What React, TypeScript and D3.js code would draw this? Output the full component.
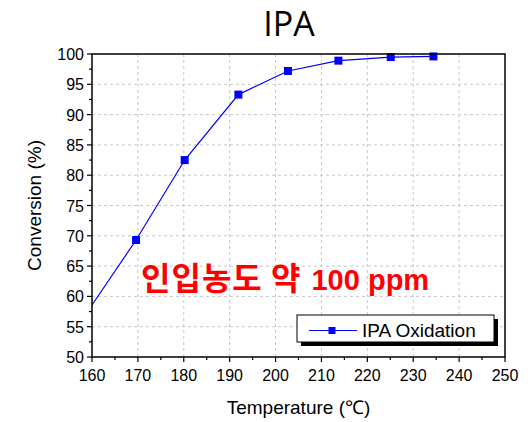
import * as d3 from "d3";

const WIDTH = 530;
const HEIGHT = 422;
const M = { left: 92, right: 25, top: 54, bottom: 65 };

// data (first point lies left of the axis and is clipped)
const temps = [155, 169.6, 180.2, 191.9, 202.7, 213.7, 225.1, 234.4];
const conversion = [53.0, 69.3, 82.5, 93.3, 97.2, 98.9, 99.5, 99.6];
const xTicks = [160, 170, 180, 190, 200, 210, 220, 230, 240, 250];
const yTicks = [50, 55, 60, 65, 70, 75, 80, 85, 90, 95, 100];
const xMinor = d3.range(165, 250, 10);
const yMinor = d3.range(52.5, 100, 5);

const SANS = "'Liberation Sans', Arial, sans-serif";

export default function App() {
  const x = d3.scaleLinear().domain([160, 250]).range([M.left, WIDTH - M.right]);
  const y = d3.scaleLinear().domain([50, 100]).range([HEIGHT - M.bottom, M.top]);
  const pts = temps.map((t, i) => [t, conversion[i]] as [number, number]);
  const line = d3
    .line<[number, number]>()
    .x((d) => x(d[0]))
    .y((d) => y(d[1]));
  const x0 = x(160);
  const x1 = x(250);
  const y0 = y(50);
  const y1 = y(100);

  return (
    <svg width={WIDTH} height={HEIGHT} style={{ position: "absolute", left: 0, top: 0 }}>
      <defs>
        <clipPath id="plot">
          <rect x={x0} y={y1} width={x1 - x0} height={y0 - y1} />
        </clipPath>
      </defs>
      <rect width={WIDTH} height={HEIGHT} fill="#fff" />
      <text x={289} y={36} textAnchor="middle" fontFamily="'Open Sans', 'Noto Sans', sans-serif" fontSize={34} fill="#000">
        IPA
      </text>

      <g stroke="#c8c8c8" strokeDasharray="3,3" strokeWidth={1}>
        {xTicks.slice(1, -1).map((t) => (
          <line key={t} x1={x(t)} x2={x(t)} y1={y1} y2={y0} />
        ))}
        {yTicks.slice(1, -1).map((t) => (
          <line key={t} x1={x0} x2={x1} y1={y(t)} y2={y(t)} />
        ))}
      </g>

      <text x={141} y={290} fill="#ff0000" fontWeight="bold">
        <tspan fontFamily="'Noto Sans CJK KR', sans-serif" fontSize={32} letterSpacing={1}>
          인입농도 약
        </tspan>
        <tspan fontFamily={SANS} fontSize={29} dx={10}>
          100 ppm
        </tspan>
      </text>

      <g clipPath="url(#plot)">
        <path d={line(pts) || ""} fill="none" stroke="#0000ff" strokeWidth={1.2} />
      </g>
      <g fill="#0000ff">
        {pts
          .filter((d) => d[0] >= 160)
          .map((d) => (
            <rect key={d[0]} x={x(d[0]) - 4} y={y(d[1]) - 4} width={8} height={8} />
          ))}
      </g>

      <rect x={x0} y={y1} width={x1 - x0} height={y0 - y1} fill="none" stroke="#000" strokeWidth={1.5} />

      <g stroke="#000" strokeWidth={1.2}>
        {xTicks.map((t) => (
          <line key={t} x1={x(t)} x2={x(t)} y1={y0} y2={y0 + 5} />
        ))}
        {xMinor.map((t) => (
          <line key={t} x1={x(t)} x2={x(t)} y1={y0} y2={y0 + 3} />
        ))}
        {yTicks.map((t) => (
          <line key={t} x1={x0} x2={x0 - 5} y1={y(t)} y2={y(t)} />
        ))}
        {yMinor.map((t) => (
          <line key={t} x1={x0} x2={x0 - 3} y1={y(t)} y2={y(t)} />
        ))}
      </g>

      <g fontFamily={SANS} fontSize={16} fill="#000">
        {xTicks.map((t) => (
          <text key={t} x={x(t)} y={y0 + 24} textAnchor="middle">
            {t}
          </text>
        ))}
        {yTicks.map((t) => (
          <text key={t} x={x0 - 8} y={y(t) + 6} textAnchor="end">
            {t}
          </text>
        ))}
      </g>

      <text x={(x0 + x1) / 2} y={414} textAnchor="middle" fontFamily={SANS} fontSize={19} fill="#000">
        Temperature (℃)
      </text>
      <text
        transform={`translate(41, ${(y0 + y1) / 2}) rotate(-90)`}
        textAnchor="middle"
        fontFamily={SANS}
        fontSize={19}
        fill="#000"
      >
        Conversion (%)
      </text>

      <g>
        <rect x={301} y={319} width={197} height={27} fill="#000" />
        <rect x={297} y={315} width={197} height={27} fill="#fff" stroke="#000" strokeWidth={1} />
        <line x1={309} x2={357} y1={330.5} y2={330.5} stroke="#0000ff" strokeWidth={1.2} />
        <rect x={328.5} y={327} width={7} height={7} fill="#0000ff" />
        <text x={362} y={337} fontFamily={SANS} fontSize={19} fill="#000">
          IPA Oxidation
        </text>
      </g>
    </svg>
  );
}
